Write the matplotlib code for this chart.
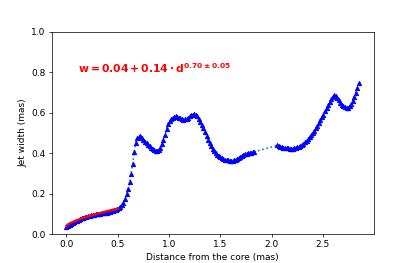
import matplotlib
matplotlib.use("Agg")
import matplotlib.pyplot as plt
import numpy as np

# Measured jet width along the jet (mas)
distance = [
    0.000, 0.015, 0.030, 0.045, 0.060, 0.075, 0.090, 0.105, 0.120, 0.135,
    0.150, 0.165, 0.180, 0.195, 0.210, 0.225, 0.240, 0.255, 0.270, 0.285,
    0.300, 0.315, 0.330, 0.345, 0.360, 0.375, 0.390, 0.405, 0.420, 0.435,
    0.450, 0.465, 0.480, 0.495, 0.510, 0.525, 0.540, 0.555, 0.570, 0.585,
    0.600, 0.615, 0.630, 0.645, 0.660, 0.675, 0.690, 0.705, 0.720, 0.735,
    0.750, 0.765, 0.780, 0.795, 0.810, 0.825, 0.840, 0.855, 0.870, 0.885,
    0.900, 0.915, 0.930, 0.945, 0.960, 0.975, 0.990, 1.005, 1.020, 1.035,
    1.050, 1.065, 1.080, 1.095, 1.110, 1.125, 1.140, 1.155, 1.170, 1.185,
    1.200, 1.215, 1.230, 1.245, 1.260, 1.275, 1.290, 1.305, 1.320, 1.335,
    1.350, 1.365, 1.380, 1.395, 1.410, 1.425, 1.440, 1.455, 1.470, 1.485,
    1.500, 1.515, 1.530, 1.545, 1.560, 1.575, 1.590, 1.605, 1.620, 1.635,
    1.650, 1.665, 1.680, 1.695, 1.710, 1.725, 1.740, 1.755, 1.770, 1.785,
    1.800, 1.815, 1.830,
    2.055, 2.070, 2.085, 2.100, 2.115, 2.130, 2.145, 2.160, 2.175, 2.190,
    2.205, 2.220, 2.235, 2.250, 2.265, 2.280, 2.295, 2.310, 2.325, 2.340,
    2.355, 2.370, 2.385, 2.400, 2.415, 2.430, 2.445, 2.460, 2.475, 2.490,
    2.505, 2.520, 2.535, 2.550, 2.565, 2.580, 2.595, 2.610, 2.625, 2.640,
    2.655, 2.670, 2.685, 2.700, 2.715, 2.730, 2.745, 2.760, 2.775, 2.790,
    2.805, 2.820, 2.835, 2.850,
]
width = [
    0.036, 0.041, 0.046, 0.050, 0.055, 0.059, 0.063, 0.067, 0.071, 0.074,
    0.077, 0.080, 0.083, 0.085, 0.088, 0.090, 0.092, 0.094, 0.095, 0.097,
    0.098, 0.099, 0.100, 0.102, 0.103, 0.104, 0.106, 0.108, 0.110, 0.112,
    0.114, 0.117, 0.120, 0.123, 0.127, 0.133, 0.142, 0.155, 0.173, 0.196,
    0.225, 0.256, 0.299, 0.345, 0.403, 0.452, 0.474, 0.481, 0.482, 0.475,
    0.466, 0.457, 0.448, 0.440, 0.433, 0.426, 0.419, 0.414, 0.411, 0.411,
    0.417, 0.427, 0.444, 0.466, 0.491, 0.518, 0.545, 0.557, 0.567, 0.574,
    0.580, 0.581, 0.578, 0.575, 0.571, 0.567, 0.564, 0.566, 0.570, 0.575,
    0.581, 0.587, 0.590, 0.592, 0.589, 0.581, 0.569, 0.555, 0.540, 0.524,
    0.503, 0.484, 0.466, 0.449, 0.434, 0.421, 0.409, 0.398, 0.391, 0.385,
    0.380, 0.376, 0.372, 0.368, 0.366, 0.364, 0.362, 0.362, 0.363, 0.365,
    0.368, 0.372, 0.377, 0.382, 0.386, 0.389, 0.393, 0.396, 0.398, 0.400,
    0.402, 0.404, 0.406,
    0.438, 0.434, 0.431, 0.428, 0.426, 0.425, 0.423, 0.423, 0.422, 0.422,
    0.422, 0.424, 0.426, 0.428, 0.432, 0.436, 0.440, 0.446, 0.453, 0.460,
    0.467, 0.477, 0.487, 0.497, 0.510, 0.523, 0.536, 0.549, 0.562, 0.576,
    0.590, 0.607, 0.623, 0.638, 0.653, 0.666, 0.678, 0.685, 0.680, 0.672,
    0.660, 0.648, 0.638, 0.630, 0.626, 0.623, 0.623, 0.630, 0.641, 0.659,
    0.679, 0.699, 0.720, 0.745,
]

# Power-law fit shown on the chart: w = a + b * d^k
fit_a = 0.04
fit_b = 0.14
fit_k = 0.70
fit_k_err = 0.05
fit_range = (0.0, 0.5)

DPI = 415 / 6.4
fig = plt.figure(figsize=(6.4, 263 / DPI), dpi=DPI)
ax = fig.add_subplot(111)

ax.plot(distance, width, ':', color='C0', lw=1.8, zorder=1)
ax.plot(distance, width, '^', color='blue', ms=4.8, mec='blue', ls='none', zorder=2)

fit_d = np.linspace(fit_range[0], fit_range[1], 100)
fit_w = fit_a + fit_b * fit_d ** fit_k
ax.plot(fit_d, fit_w, '-', color='red', lw=2.6, zorder=3)

label = (r'$\mathbf{w = %.2f + %.2f \cdot d^{%.2f \pm %.2f}}$'
         % (fit_a, fit_b, fit_k, fit_k_err))
ax.text(0.11, 0.795, label, color='red', fontsize=12, fontweight='bold',
        va='baseline', ha='left')

ax.set_ylim(0, 1.0)
ax.set_yticks([0.0, 0.2, 0.4, 0.6, 0.8, 1.0])
ax.set_xticks([0.0, 0.5, 1.0, 1.5, 2.0, 2.5])
ax.set_xlabel('Distance from the core (mas)')
ax.set_ylabel('Jet width (mas)')

fig.savefig('out.png', dpi=DPI)
